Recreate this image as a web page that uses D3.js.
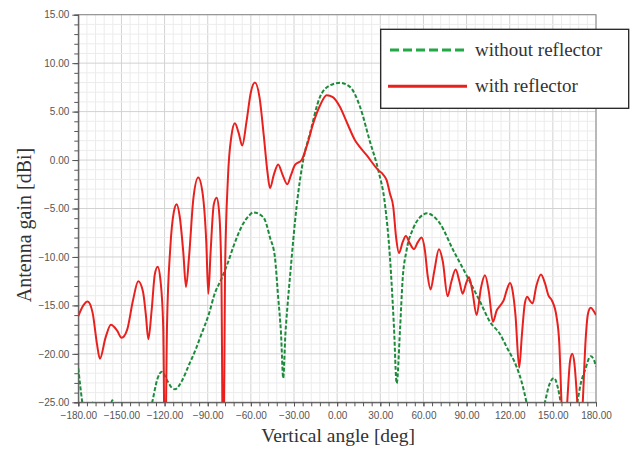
<!DOCTYPE html>
<meta charset="utf-8">
<style>
body { margin: 0; background: #fff; }
.tick text { font-family: "Liberation Sans", Arial, sans-serif; font-size: 10px; fill: #555; }
.title { font-family: "Liberation Serif", "Times New Roman", serif; fill: #333; }
</style>
<svg width="630" height="451"></svg>
<script src="https://d3js.org/d3.v7.min.js"></script>
<script>
// angle [deg], gain [dBi]
var withReflector = [
  [-180, -16.1], [-176.5, -15.0], [-173.5, -14.6], [-170, -15.8], [-167, -19.0], [-165, -20.5],
  [-161, -18.3], [-157.3, -17.0], [-153, -17.6], [-149.9, -18.35], [-146, -17.5], [-142, -14.5],
  [-138.3, -12.5], [-135, -13.6], [-133, -16.0], [-131.3, -18.5], [-129, -15.5], [-126.8, -11.8],
  [-124.8, -11.0], [-122.8, -12.5], [-121, -17], [-119.7, -32], [-118.3, -17], [-116, -9],
  [-113.5, -5.3], [-111.6, -4.55], [-109.5, -5.8], [-107, -9.5], [-105.1, -13.1], [-103, -10],
  [-100, -4.0], [-96.6, -1.8], [-93.5, -3.5], [-91, -8.5], [-89.6, -13.8], [-88, -9.5],
  [-85.8, -4.6], [-83.8, -3.9], [-82, -5.5], [-80.5, -12], [-79.2, -35], [-78, -12],
  [-76, -2], [-73.5, 2.5], [-71.1, 3.8], [-68.5, 2.8], [-66, 1.5], [-63, 4.0],
  [-60, 7.0], [-57.2, 8.0], [-54, 6.5], [-51, 2.5], [-48.5, -1.2], [-46.7, -2.9],
  [-44, -1.5], [-41, -0.45], [-38, -1.5], [-34.7, -2.5], [-32, -1.5], [-29.3, -0.5],
  [-24.7, 0], [-21, 1.5], [-16.6, 3.8], [-12, 5.6], [-7.3, 6.7], [-3, 6.5],
  [1.9, 5.5], [7, 3.8], [12.4, 2.05], [16, 1.3], [20.5, 0.5], [28.6, -1.04],
  [32, -1.5], [34.4, -2.07], [36.7, -3.45], [39, -4.8], [41, -8.0], [43, -9.6],
  [45.5, -8.5], [47.8, -7.85], [50.5, -8.6], [53.4, -9.2], [56, -8.5], [58.7, -8.0],
  [61, -9.3], [63, -12], [65, -13.35], [67.5, -11.5], [70.8, -9.2], [73.5, -10.5],
  [76.8, -14.05], [79.5, -12.5], [82.4, -11.3], [85, -12.5], [87.3, -13.8], [89.5, -12.8],
  [91.7, -12.1], [94, -13.5], [97, -16.0], [100, -13.2], [102.8, -11.9], [105.5, -13.6],
  [108.3, -16.7], [111, -15.5], [113.5, -15.0], [116, -14.4], [118, -13.4], [120.2, -12.7],
  [122, -13.5], [124, -16.0], [126.6, -21.4], [128.5, -18], [130.5, -14.8], [132.2, -14.1],
  [134, -14.5], [135.9, -14.8], [138.5, -13], [141.7, -11.8], [144.5, -12.7], [147, -14.0],
  [149.2, -14.45], [152.6, -16.2], [154.5, -19], [156, -25], [158, -30], [160, -25],
  [162, -20.7], [163.5, -20.0], [165, -21], [167, -25], [169, -30], [170.8, -25],
  [172.8, -18.5], [174.5, -15.8], [176.3, -15.25], [178.5, -15.6], [180, -16.0]
];

var withoutReflector = [
  [-180, -21.5], [-178.5, -23.5], [-177, -25.3], [-174, -28], [-170.5, -25.6], [-169.4, -24.9],
  [-168, -25.6], [-163, -28], [-157.5, -25.4], [-156.4, -24.8], [-155, -25.4], [-145, -30],
  [-135, -29], [-128.6, -25], [-125, -22.6], [-122, -21.85], [-118, -22.8], [-115, -23.5],
  [-112.8, -23.65], [-108, -22.8], [-103.5, -21.3], [-98, -19.4], [-94.2, -17.9], [-89, -15.8],
  [-85.5, -13.95], [-80.3, -12.2], [-76, -10.6], [-72.2, -8.95], [-65.3, -6.55], [-61, -5.7],
  [-58.3, -5.4], [-54, -5.6], [-50.2, -6.2], [-46.7, -8.0], [-43.3, -10.0], [-41.2, -13.8],
  [-39, -18], [-37.5, -22.5], [-36, -18], [-34.5, -15], [-32.8, -12.05], [-28.2, -4.8],
  [-23.6, 0], [-18.9, 2.75], [-12, 6.5], [-5, 7.7], [1.9, 7.97], [8.9, 7.55],
  [15.9, 5.5], [22.8, 1.9], [28.6, -1.04], [33.2, -4.5], [36.7, -10.0], [39.5, -17.2],
  [41.4, -23.05], [43.7, -17.55], [45.5, -12.4], [48.3, -9.3], [52.9, -7.06], [57, -6.0],
  [62.7, -5.5], [67, -5.8], [71.5, -6.55], [80.7, -9.3], [90, -11.9], [99.3, -14.6],
  [106.3, -16.7], [113.2, -17.95], [117.9, -19.3], [124.8, -21.35], [128.5, -23], [131.8, -25.1],
  [135, -27.5], [140, -28], [144.5, -25], [147.5, -23.2], [150.8, -22.5], [153.5, -23.5],
  [155.4, -25], [158, -28], [163, -28], [167, -25], [169.5, -23], [172.3, -21.7],
  [176.3, -20.25], [178.5, -20.6], [180, -21.3]
];

var xTicks = d3.range(-180, 181, 30);
var yTicks = d3.range(-25, 16, 5);
var seriesNames = ["without reflector", "with reflector"];

var svg = d3.select("svg"),
    margin = {top: 14.7, right: 34, bottom: 48.7, left: 78.3},
    width = 630 - margin.left - margin.right,
    height = 451 - margin.top - margin.bottom;

var x = d3.scaleLinear().domain([-180, 180]).range([0, width]),
    y = d3.scaleLinear().domain([-25, 15]).range([height, 0]);

var g = svg.append("g")
    .attr("transform", "translate(" + margin.left + "," + margin.top + ")");

svg.append("defs").append("clipPath")
    .attr("id", "clip")
  .append("rect")
    .attr("width", width)
    .attr("height", height);

// grid: minor then major
g.append("g").selectAll("line")
    .data(d3.range(-180, 181, 6))
  .enter().append("line")
    .attr("x1", function(d) { return x(d); })
    .attr("x2", function(d) { return x(d); })
    .attr("y1", 0).attr("y2", height)
    .attr("stroke", function(d) { return d % 30 === 0 ? "#d2d2d2" : "#ececec"; })
    .attr("stroke-width", 1);

g.append("g").selectAll("line")
    .data(d3.range(-25, 16, 1))
  .enter().append("line")
    .attr("y1", function(d) { return y(d); })
    .attr("y2", function(d) { return y(d); })
    .attr("x1", 0).attr("x2", width)
    .attr("stroke", function(d) { return d % 5 === 0 ? "#d2d2d2" : "#ececec"; })
    .attr("stroke-width", 1);

// frame top/right
g.append("rect")
    .attr("width", width).attr("height", height)
    .attr("fill", "none").attr("stroke", "#888").attr("stroke-width", 1);

// axes
var xMinor = g.append("g")
    .attr("transform", "translate(0," + height + ")")
    .call(d3.axisBottom(x).tickValues(d3.range(-180, 181, 6)).tickSize(4).tickFormat(""));
xMinor.select(".domain").attr("stroke", "#555");
xMinor.selectAll(".tick line").attr("stroke", "#555");

var xAxis = g.append("g")
    .attr("transform", "translate(0," + height + ")")
    .call(d3.axisBottom(x).tickValues(xTicks).tickSize(4).tickPadding(6).tickFormat(d3.format(".2f")));
xAxis.select(".domain").remove();
xAxis.selectAll(".tick line").attr("stroke", "#555");

var yMinor = g.append("g")
    .call(d3.axisLeft(y).tickValues(d3.range(-25, 16, 1)).tickSize(4).tickFormat(""));
yMinor.select(".domain").attr("stroke", "#555");
yMinor.selectAll(".tick line").attr("stroke", "#555");

var yAxis = g.append("g")
    .call(d3.axisLeft(y).tickValues(yTicks).tickSize(6).tickPadding(3).tickFormat(d3.format(".2f")));
yAxis.select(".domain").remove();
yAxis.selectAll(".tick line").attr("stroke", "#555");

// curves
var line = d3.line()
    .curve(d3.curveMonotoneX)
    .x(function(d) { return x(d[0]); })
    .y(function(d) { return y(d[1]); });

var plot = g.append("g").attr("clip-path", "url(#clip)");

plot.append("path")
    .datum(withoutReflector)
    .attr("fill", "none")
    .attr("stroke", "#1d8a3c")
    .attr("stroke-width", 2)
    .attr("stroke-dasharray", "4,2")
    .attr("d", line);

plot.append("path")
    .datum(withReflector)
    .attr("fill", "none")
    .attr("stroke", "#e8211f")
    .attr("stroke-width", 2)
    .attr("d", line);

// legend
var legend = svg.append("g");
legend.append("rect")
    .attr("x", 380.7).attr("y", 29.3)
    .attr("width", 248).attr("height", 79)
    .attr("fill", "#fff").attr("stroke", "#222").attr("stroke-width", 1.3);

legend.append("line")
    .attr("x1", 390).attr("x2", 468).attr("y1", 50).attr("y2", 50)
    .attr("stroke", "#22a845").attr("stroke-width", 3).attr("stroke-dasharray", "9,4");
legend.append("line")
    .attr("x1", 388).attr("x2", 467).attr("y1", 86.3).attr("y2", 86.3)
    .attr("stroke", "#e8211f").attr("stroke-width", 3);

legend.selectAll("text")
    .data(seriesNames)
  .enter().append("text")
    .attr("class", "title")
    .attr("x", 475)
    .attr("y", function(d, i) { return 55.5 + i * 36; })
    .style("font-size", "19px")
    .text(function(d) { return d; });

// axis titles
svg.append("text")
    .attr("class", "title")
    .attr("x", margin.left + width / 2 + 1)
    .attr("y", 442)
    .attr("text-anchor", "middle")
    .style("font-size", "19.5px")
    .text("Vertical angle [deg]");

svg.append("text")
    .attr("class", "title")
    .attr("transform", "translate(31,225) rotate(-90)")
    .attr("text-anchor", "middle")
    .style("font-size", "20px")
    .text("Antenna gain [dBi]");
</script>
